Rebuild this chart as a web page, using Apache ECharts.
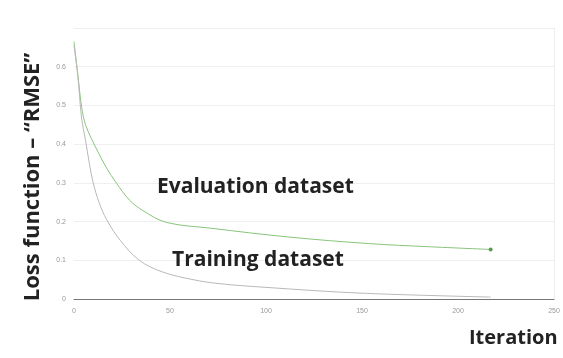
<!DOCTYPE html>
<html>
<head>
    <meta charset="utf-8">
    <title>Loss function</title>
    <style type="text/css">
        * { margin: 0; padding: 0; }
        body { background: #fff; overflow: hidden; }
        #main1 { width: 563px; height: 358px; }
    </style>
</head>
<body>
<div id="main1"></div>
<script src="https://cdn.jsdelivr.net/npm/echarts@6/dist/echarts.min.js"></script>
<script type="text/javascript">
    // evaluation dataset: iteration / RMSE
    var evalIter = [0, 2, 4, 6, 9, 13, 17, 22, 29, 36, 48, 71, 112, 154, 185, 217];
    var evalRmse = [0.665, 0.58, 0.495, 0.45, 0.415, 0.375, 0.338, 0.3, 0.255, 0.228, 0.198, 0.183, 0.16, 0.143, 0.135, 0.128];
    // training dataset: iteration / RMSE
    var trainIter = [0, 2, 4, 6, 8, 10, 13, 17, 24, 34, 46, 62, 75, 100, 150, 217];
    var trainRmse = [0.655, 0.575, 0.465, 0.41, 0.35, 0.3, 0.25, 0.205, 0.152, 0.1, 0.07, 0.05, 0.04, 0.03, 0.015, 0.005];
    var xTicks = [0, 50, 100, 150, 200, 250];
    var yTicks = [0, 0.1, 0.2, 0.3, 0.4, 0.5, 0.6];

    function pairs(xs, ys) {
        var out = [];
        for (var i = 0; i < xs.length; i++) out.push([xs[i], ys[i]]);
        return out;
    }

    var myChart = echarts.init(document.getElementById('main1'));

    var option = {
        animation: false,
        grid: { left: 74, right: 9, top: 28, bottom: 59 },
        xAxis: {
            type: 'value',
            min: 0, max: 250, interval: 50,
            axisLine: { lineStyle: { color: '#777', width: 1 } },
            axisTick: { show: false },
            splitLine: { show: false },
            axisLabel: {
                color: '#999', fontSize: 7, margin: 9,
                formatter: function (v) { return xTicks.indexOf(v) >= 0 ? String(v) : ''; }
            }
        },
        yAxis: [{
            type: 'value',
            min: 0, max: 0.7, interval: 0.1,
            axisLine: { show: false },
            axisTick: { show: false },
            splitLine: { lineStyle: { color: '#efefef', width: 1 } },
            axisLabel: {
                color: '#999', fontSize: 7, margin: 8,
                formatter: function (v) {
                    var r = Math.round(v * 10) / 10;
                    return yTicks.indexOf(r) >= 0 && r < 0.65 ? String(r) : '';
                }
            }
        }, {
            type: 'value',
            position: 'right',
            min: 0, max: 0.7,
            axisLine: { show: true, lineStyle: { color: '#eeeeee' } },
            axisTick: { show: false },
            axisLabel: { show: false },
            splitLine: { show: false }
        }],
        series: [{
            name: 'Evaluation dataset',
            type: 'line',
            smooth: 0.35,
            data: pairs(evalIter, evalRmse),
            showSymbol: false,
            lineStyle: { color: '#88c47a', width: 1 },
            markPoint: {
                symbol: 'circle', symbolSize: 4,
                itemStyle: { color: '#5c9a50' },
                label: { show: false },
                data: [{ coord: [evalIter[evalIter.length - 1], evalRmse[evalRmse.length - 1]] }]
            }
        }, {
            name: 'Training dataset',
            type: 'line',
            smooth: 0.35,
            data: pairs(trainIter, trainRmse),
            showSymbol: false,
            lineStyle: { color: '#b8b8b8', width: 1 }
        }],
        graphic: [{
            type: 'text', z: 100,
            left: 157, top: 177,
            style: { text: 'Evaluation dataset', fill: '#222', font: 'bold 21px "Open Sans", sans-serif' }
        }, {
            type: 'text', z: 100,
            left: 172, top: 250,
            style: { text: 'Training dataset', fill: '#222', font: 'bold 21px "Open Sans", sans-serif' }
        }, {
            type: 'text', z: 100,
            left: 469, top: 328,
            style: { text: 'Iteration', fill: '#222', font: 'bold 20px "Open Sans", sans-serif' }
        }, {
            type: 'text', z: 100,
            x: 33, y: 177,
            rotation: Math.PI / 2,
            style: {
                text: 'Loss function – “RMSE”', fill: '#222',
                font: 'bold 22px "Open Sans", sans-serif',
                align: 'center', verticalAlign: 'middle'
            }
        }]
    };

    myChart.setOption(option);
</script>
</body>
</html>
